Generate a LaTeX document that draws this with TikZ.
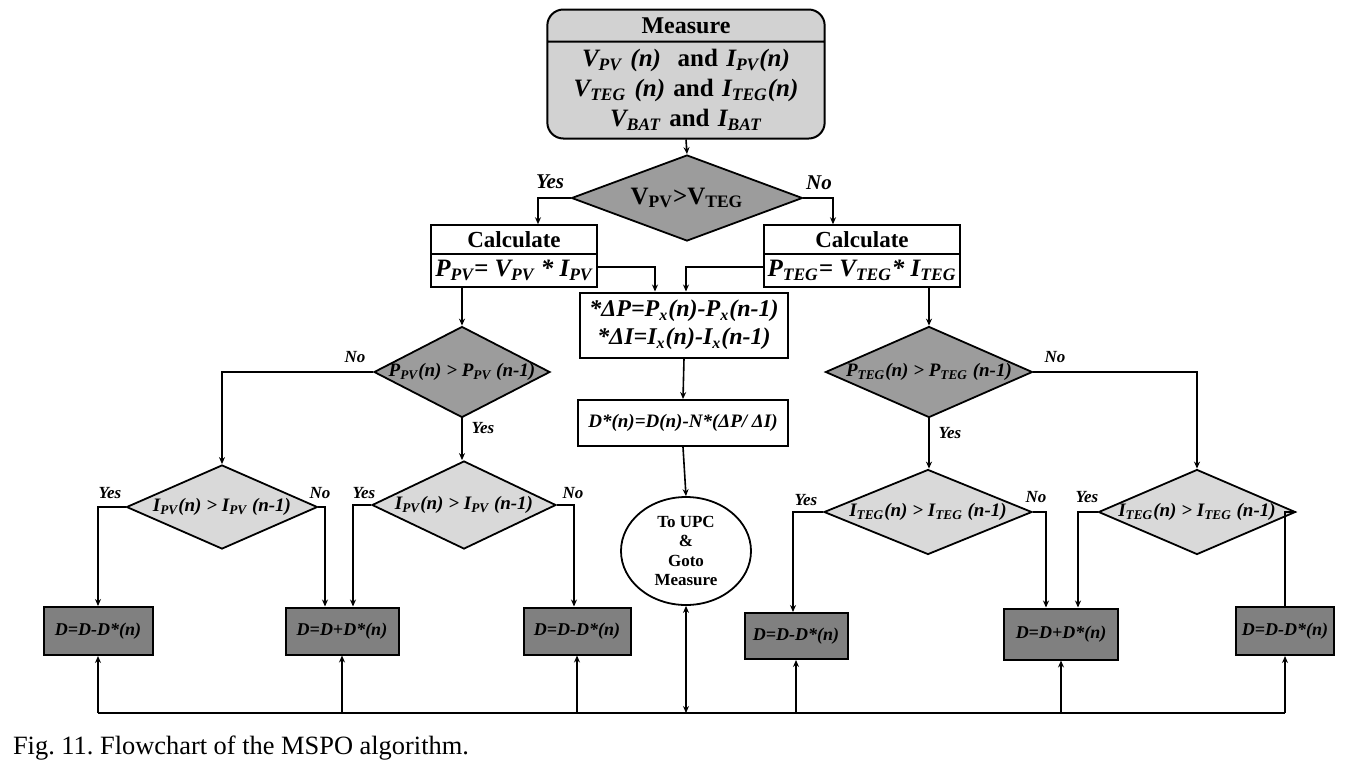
\documentclass[tikz,border=0pt]{standalone}
\usepackage{fontspec}
\setmainfont{Liberation Serif}
\usepackage{tikz}
\usetikzlibrary{shapes.geometric, shapes.multipart, arrows.meta, positioning, calc}

\definecolor{measurefill}{HTML}{D2D2D2}
\definecolor{darkfill}{HTML}{9C9C9C}
\definecolor{lightfill}{HTML}{D9D9D9}
\definecolor{updatefill}{HTML}{808080}

\newcommand{\lo}[1]{\textsubscript{#1}}
\newcommand{\dtext}[1]{\makebox[0pt]{#1}}

\tikzset{
  measurebox/.style={
    rectangle split, rectangle split parts=2, draw, line width=1pt,
    rounded corners=8pt, fill=measurefill, text width=132pt,
    align=center, inner ysep=3.5pt, font=\bfseries\fontsize{12.5}{15}\selectfont
  },
  calcbox/.style={
    rectangle split, rectangle split parts=2, draw, line width=1pt,
    fill=white, align=center, inner xsep=2pt, inner ysep=2.6pt,
    font=\bfseries
  },
  mathbox/.style={
    draw, line width=1pt, fill=white, align=center, inner sep=1pt,
    font=\bfseries\itshape
  },
  decidedark/.style={
    diamond, draw, line width=0.9pt, fill=darkfill, inner sep=0pt,
    font=\bfseries\itshape\fontsize{9.5}{11}\selectfont
  },
  decidelight/.style={decidedark, fill=lightfill},
  updatebox/.style={
    draw, line width=1pt, fill=updatefill, inner sep=0pt,
    font=\bfseries\itshape\fontsize{9}{11}\selectfont
  },
  endellipse/.style={
    ellipse, draw, line width=0.9pt, fill=white, align=center,
    inner sep=0pt, font=\bfseries\fontsize{8.5}{9.7}\selectfont
  },
  answer/.style={font=\bfseries\itshape\fontsize{8.5}{10}\selectfont},
  answerbig/.style={font=\bfseries\itshape\fontsize{10.5}{12}\selectfont},
  flowline/.style={line width=0.8pt},
  flowarrow/.style={-{Stealth[length=3.5pt,width=3pt]}, line width=0.8pt},
}

\begin{document}
\begin{tikzpicture}[x=0.5pt, y=-0.5pt]
  \useasboundingbox (0,0) rectangle (1357,768);

  % === Measure ===
  \node[measurebox] (measure) at (686,74)
    {\fontsize{12}{14}\selectfont Measure
     \nodepart{two}
     \textit{V\lo{PV} (n)} \ and \textit{I\lo{PV}(n)}\\
     \textit{V\lo{TEG} (n)} and \textit{I\lo{TEG}(n)}\\
     \textit{V\lo{BAT}} and \textit{I\lo{BAT}}};

  \node[decidedark, minimum width=115.5pt, minimum height=43pt] (ratio) at (687,198)
    {\dtext{\upshape\fontsize{12.5}{14}\selectfont V\lo{PV}>V\lo{TEG}}};

  % === Calculate ===
  \node[calcbox, minimum width=82pt] (calcpv) at (514,256)
    {\fontsize{11.5}{13}\selectfont Calculate
     \nodepart{two}\fontsize{12.5}{14}\selectfont\itshape P\lo{PV}= V\lo{PV} * I\lo{PV}};
  \node[calcbox, minimum width=96pt] (calcteg) at (862,256)
    {\fontsize{11.5}{13}\selectfont Calculate
     \nodepart{two}\fontsize{12.5}{14}\selectfont\itshape P\lo{TEG}= V\lo{TEG}* I\lo{TEG}};

  % === Common step ===
  \node[mathbox, minimum width=104pt, minimum height=32.5pt, font=\bfseries\itshape\fontsize{12}{14}\selectfont] (delta) at (684,325)
    {*ΔP=P\lo{x}(n)-P\lo{x}(n-1)\\{}*ΔI=I\lo{x}(n)-I\lo{x}(n-1)};
  \node[mathbox, minimum width=105pt, minimum height=23pt, font=\bfseries\itshape\fontsize{9.5}{11}\selectfont] (dstar) at (683,423)
    {D*(n)=D(n)-N*(ΔP/ ΔI)};
  \node[endellipse, minimum width=65pt, minimum height=54pt] (goto) at (686,551)
    {To UPC\\\&\\Goto\\Measure};

  % === Decisions ===
  \node[decidedark, minimum width=88pt, minimum height=45.5pt] (ppv) at (462,372)
    {\dtext{P\lo{PV}(n) > P\lo{PV} (n-1)}};
  \node[decidedark, minimum width=103.5pt, minimum height=45.5pt] (pteg) at (929,372)
    {\dtext{P\lo{TEG}(n) > P\lo{TEG} (n-1)}};
  \node[decidelight, minimum width=95.5pt, minimum height=42pt] (ipvno) at (222,507)
    {\dtext{I\lo{PV}(n) > I\lo{PV} (n-1)}};
  \node[decidelight, minimum width=92pt, minimum height=44pt] (ipvyes) at (464,505)
    {\dtext{I\lo{PV}(n) > I\lo{PV} (n-1)}};
  \node[decidelight, minimum width=104pt, minimum height=42.5pt] (itegyes) at (928,512)
    {\dtext{I\lo{TEG}(n) > I\lo{TEG} (n-1)}};
  \node[decidelight, minimum width=98.5pt, minimum height=42.5pt] (itegno) at (1197,512)
    {\dtext{I\lo{TEG}(n) > I\lo{TEG} (n-1)}};

  % === Duty updates ===
  \node[updatebox, minimum width=54.5pt, minimum height=24pt] (upd1) at (98,631) {D=D-D*(n)};
  \node[updatebox, minimum width=56.5pt, minimum height=23.5pt] (upd2) at (342,631) {D=D+D*(n)};
  \node[updatebox, minimum width=53.5pt, minimum height=23.5pt] (upd3) at (577,631) {D=D-D*(n)};
  \node[updatebox, minimum width=51.5pt, minimum height=23pt] (upd4) at (796,636) {D=D-D*(n)};
  \node[updatebox, minimum width=57pt, minimum height=25.5pt] (upd5) at (1061,634) {D=D+D*(n)};
  \node[updatebox, minimum width=49pt, minimum height=24pt] (upd6) at (1285,631) {D=D-D*(n)};

  \coordinate (bus) at (0,713);

  % === Yes / No ===
  \node[answerbig] (yes0) at (550,182) {Yes};
  \node[answerbig] (no0) at (819,183) {No};
  \node[answer] (no1) at (355,357) {No};
  \node[answer] (yes1) at (483,428) {Yes};
  \node[answer] (no2) at (1055,357) {No};
  \node[answer] (yes2) at (950,433) {Yes};
  \node[answer] (yes3) at (110,493) {Yes};
  \node[answer] (no3) at (320,493) {No};
  \node[answer] (yes4) at (364,493) {Yes};
  \node[answer] (no4) at (573,493) {No};
  \node[answer] (yes5) at (806,500) {Yes};
  \node[answer] (no5) at (1036,497) {No};
  \node[answer] (yes6) at (1087,497) {Yes};

  % === Arrows ===
  \draw[flowarrow] (measure.south) -- (ratio.north);
  \draw[flowarrow] (ratio.west) -| ([xshift=12pt]calcpv.north);
  \draw[flowarrow] (ratio.east) -| ([xshift=-14.5pt]calcteg.north);
  \draw[flowarrow] ([yshift=-5.5pt]calcpv.east) -| ([xshift=-14.5pt]delta.north);
  \draw[flowarrow] ([yshift=-5.5pt]calcteg.west) -| ([xshift=1pt]delta.north);
  \draw[flowarrow] (delta.south) -- (dstar.north);
  \draw[flowarrow] (dstar.south) -- (goto.north);
  \draw[flowarrow] (calcpv.south -| ppv.north) -- (ppv.north);
  \draw[flowarrow] (calcteg.south -| pteg.north) -- (pteg.north);
  \draw[flowarrow] (ppv.west) -| (ipvno.north);
  \draw[flowarrow] (ppv.south) -- (ppv.south |- ipvyes.north);
  \draw[flowarrow] (pteg.east) -| (itegno.north);
  \draw[flowarrow] (pteg.south) -- (pteg.south |- itegyes.north);
  \draw[flowarrow] (ipvno.west) -| (upd1.north);
  \draw[flowarrow] (ipvno.east) -| ([xshift=-8.5pt]upd2.north);
  \draw[flowarrow] (ipvyes.west) -| ([xshift=5.5pt]upd2.north);
  \draw[flowarrow] (ipvyes.east) -| ([xshift=-1.5pt]upd3.north);
  \draw[flowarrow] (itegyes.west) -| ([xshift=-1.5pt]upd4.north);
  \draw[flowarrow] (itegyes.east) -| ([xshift=-7.5pt]upd5.north);
  \draw[flowarrow] (itegno.west) -| ([xshift=8.5pt]upd5.north);
  \draw[flowline] (itegno.east) -| (upd6.north);

  % === Return bus ===
  \draw[flowline] (upd1.south |- bus) -- (upd6.south |- bus);
  \foreach \b in {upd1,upd2,upd3,upd4,upd5,upd6}
    \draw[flowarrow] (\b.south |- bus) -- (\b.south);
  \draw[flowarrow, {Stealth[length=3.5pt,width=3pt]}-{Stealth[length=3.5pt,width=3pt]}]
    (goto.south |- bus) -- (goto.south);

  % === Caption ===
  \node[anchor=west, font=\fontsize{13.2}{15}\selectfont] (caption) at (6,748)
    {Fig.\ 11.\ Flowchart of the MSPO algorithm.};
\end{tikzpicture}
\end{document}
